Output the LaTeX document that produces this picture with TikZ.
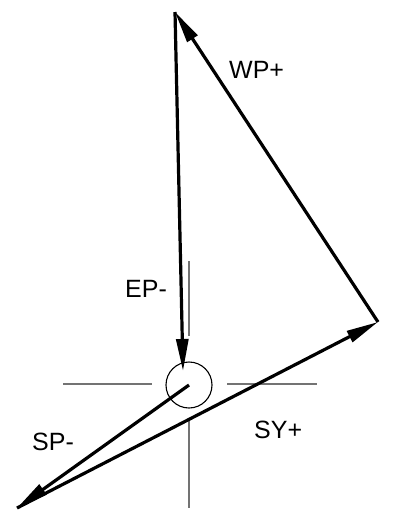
\documentclass[tikz,border=0pt]{standalone}
\usepackage{fontspec}
\setmainfont{Liberation Sans}
\usetikzlibrary{arrows.meta}
\begin{document}
\begin{tikzpicture}[x=1pt,y=-1pt,
  vec/.style={line width=3.2pt, -{Triangle[length=32pt,width=12pt]}, shorten >=0pt},
  axis/.style={line width=1.3pt, draw=black!55},
  lbl/.style={anchor=base west, inner sep=0pt, font=\fontsize{25}{30}\selectfont}]
\useasboundingbox (0,0) rectangle (392,515);
\coordinate (top) at (175,12);
\coordinate (rt) at (378,322);
\coordinate (bl) at (17,508);
\coordinate (c) at (189,385);
\node[circle, draw, line width=1.1pt, minimum size=46pt, inner sep=0pt] (ring) at (c) {};
\coordinate (ept) at (183,371);
% thin axis lines
\coordinate (vt1) at (189,261);
\coordinate (vt2) at (189,336);
\coordinate (vb1) at (189,418);
\coordinate (vb2) at (189,508);
\coordinate (hl1) at (63,384);
\coordinate (hl2) at (152,384);
\coordinate (hr1) at (227,384);
\coordinate (hr2) at (317,384);
\draw[axis] (vt1) -- (vt2);
\draw[axis] (vb1) -- (vb2);
\draw[axis] (hl1) -- (hl2);
\draw[axis] (hr1) -- (hr2);
% vectors
\draw[vec] (top) -- (ept);
\draw[vec] (rt) -- (top);
\draw[vec] (bl) -- (rt);
\draw[vec] (c) -- (bl);
% labels
\node[lbl] (wp) at (229,78) {WP+};
\node[lbl] (ep) at (125,297) {EP-};
\node[lbl] (sp) at (32,450) {SP-};
\node[lbl] (sy) at (254,438) {SY+};
\end{tikzpicture}
\end{document}
